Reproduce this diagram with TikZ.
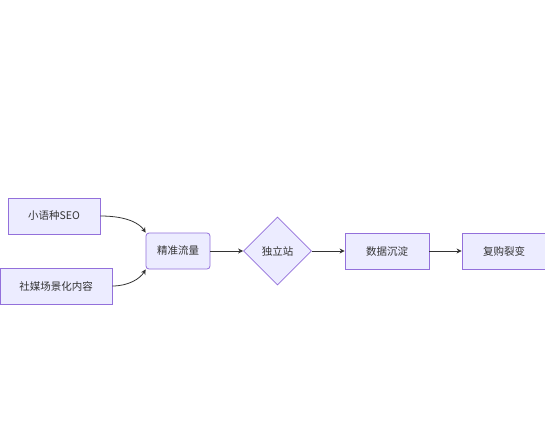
\documentclass[tikz,border=0pt]{standalone}
\usepackage{fontspec}
\newfontfamily\cjk{Noto Sans CJK SC}
\usepackage{tikz}
\usetikzlibrary{arrows.meta,shapes.geometric}
\definecolor{boxfill}{HTML}{ECECFF}
\definecolor{boxline}{HTML}{9370DB}
\definecolor{ink}{HTML}{333333}

\begin{document}
\begin{tikzpicture}[x=1pt,y=-1pt,>={Stealth[length=5pt,width=5pt]},
  font=\cjk\fontsize{10.5}{12}\selectfont,text=ink,
  box/.style={draw=boxline,fill=boxfill,line width=0.8pt,minimum height=36pt,inner sep=0pt},
  diam/.style={diamond,draw=boxline,fill=boxfill,line width=0.8pt,minimum width=68pt,minimum height=68pt,inner sep=0pt,aspect=1},
  link/.style={draw=ink,line width=0.8pt,->}]
\useasboundingbox[fill=white] (0,0) rectangle (545,445);
\node[box,minimum width=92pt] (seo) at (54,216) {小语种SEO};
\node[box,minimum width=112pt] (sm) at (56,286) {社媒场景化内容};
\node[box,minimum width=64pt,rounded corners=3pt] (flow) at (178,251) {精准流量};
\node[diam] (site) at (277.5,251) {独立站};
\node[box,minimum width=84pt] (data) at (387,251) {数据沉淀};
\node[box,minimum width=84pt] (rebuy) at (504,251) {复购裂变};
\draw[link] (seo.east) .. controls (128,216) and (140,224) .. (flow.north west);
\draw[link] (sm.east) .. controls (128,286) and (140,279) .. (flow.south west);
\draw[link] (flow) -- (site);
\draw[link] (site) -- (data);
\draw[link] (data) -- (rebuy);
\end{tikzpicture}
\end{document}
